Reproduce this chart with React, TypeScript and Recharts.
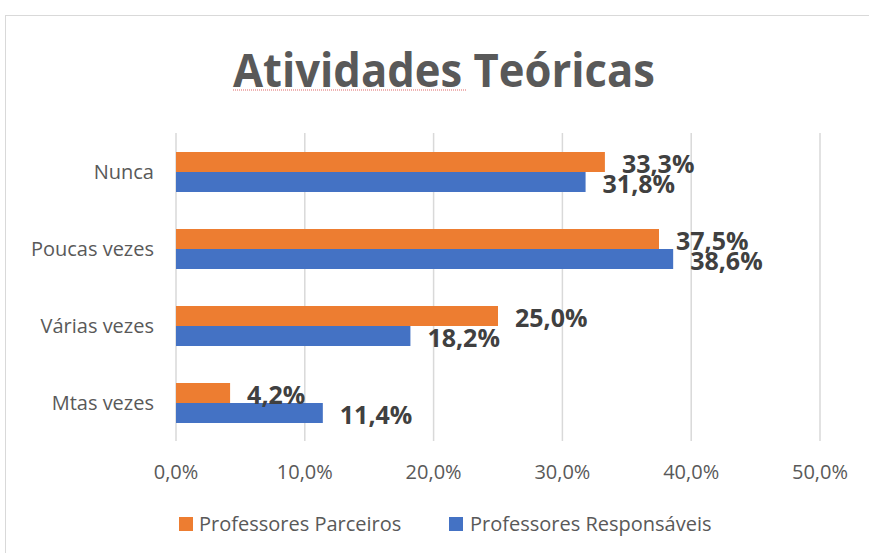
import React from 'react';
import { BarChart, Bar, XAxis, YAxis, CartesianGrid, Legend, LabelList } from 'recharts';

const categories = ['Nunca', 'Poucas vezes', 'Várias vezes', 'Mtas vezes'];
const parceiros = [33.3, 37.5, 25.0, 4.2];
const responsaveis = [31.8, 38.6, 18.2, 11.4];
const xTicks = [0, 10, 20, 30, 40, 50];
const seriesNames = ['Professores Parceiros', 'Professores Responsáveis'];
const title = 'Atividades Teóricas';

const colors = ['#ED7D31', '#4472C4'];
const FONT = '"Open Sans", "Liberation Sans", sans-serif';

const data = categories.map((name, i) => ({ name, p: parceiros[i], r: responsaveis[i] }));

const fmt = (v: number) => v.toFixed(1).replace('.', ',') + '%';

const XTick = (props: any) => {
  const { x, y, payload } = props;
  return (
    <text x={x} y={y + 38} textAnchor="middle" fill="#595959" fontSize={20} fontFamily={FONT}>
      {fmt(payload.value)}
    </text>
  );
};

const YTick = (props: any) => {
  const { x, y, payload } = props;
  return (
    <text x={x - 22} y={y} dy="0.35em" textAnchor="end" fill="#595959" fontSize={20} fontFamily={FONT}>
      {payload.value}
    </text>
  );
};

const BarLabel = (props: any) => {
  const { x, y, width, height, value } = props;
  return (
    <text x={x + width + 17} y={y + height / 2 + 2} dy="0.35em" textAnchor="start" fill="#404040" fontSize={25} fontWeight="bold" fontFamily={FONT}>
      {fmt(value)}
    </text>
  );
};

const LegendContent = () => (
  <div style={{ position: 'relative', width: 869, height: 30, fontFamily: FONT, fontSize: 20, color: '#595959' }}>
    <div style={{ position: 'absolute', left: 179, top: 8, width: 14, height: 14, background: colors[0] }} />
    <div style={{ position: 'absolute', left: 199, top: 0, lineHeight: '30px', whiteSpace: 'nowrap' }}>{seriesNames[0]}</div>
    <div style={{ position: 'absolute', left: 449, top: 8, width: 14, height: 14, background: colors[1] }} />
    <div style={{ position: 'absolute', left: 470, top: 0, lineHeight: '30px', whiteSpace: 'nowrap' }}>{seriesNames[1]}</div>
  </div>
);

export default function App() {
  return (
    <div style={{ position: 'fixed', left: 0, top: 0, width: 869, height: 553, overflow: 'hidden', background: '#fff' }}>
      <div style={{ position: 'absolute', left: 5, top: 15, width: 900, height: 600, border: '1.5px solid #d9d9d9', boxSizing: 'border-box' }} />
      <svg style={{ position: 'absolute', left: 0, top: 0 }} width={869} height={120}>
        <text x={444} y={87} textAnchor="middle" fill="#595959" fontSize={46} fontWeight="bold" fontFamily={FONT} textLength={422} lengthAdjust="spacingAndGlyphs">
          {title}
        </text>
        <line x1={233} y1={90} x2={467} y2={90} stroke="#e06666" strokeWidth={1} strokeDasharray="1 1" />
      </svg>
      <div style={{ position: 'absolute', left: 0, top: 0 }}>
        <BarChart
          width={869}
          height={553}
          data={data}
          layout="vertical"
          margin={{ top: 133, right: 49, bottom: 52, left: 0 }}
          barGap={0}
          barSize={20}
        >
          <CartesianGrid horizontal={false} vertical={true} stroke="#d9d9d9" strokeWidth={1.5} />
          <XAxis
            type="number"
            domain={[0, 50]}
            ticks={xTicks}
            axisLine={false}
            tickLine={false}
            tickSize={0}
            tickMargin={0}
            height={30}
            tick={<XTick />}
            interval={0}
          />
          <YAxis
            type="category"
            dataKey="name"
            width={176}
            axisLine={false}
            tickLine={false}
            tickSize={0}
            tickMargin={0}
            tick={<YTick />}
            interval={0}
          />
          <Legend
            content={<LegendContent />}
            wrapperStyle={{ position: 'absolute', left: 0, top: 509, width: 869, height: 30 }}
          />
          <Bar dataKey="p" name={seriesNames[0]} fill={colors[0]} isAnimationActive={false}>
            <LabelList dataKey="p" content={<BarLabel />} />
          </Bar>
          <Bar dataKey="r" name={seriesNames[1]} fill={colors[1]} isAnimationActive={false}>
            <LabelList dataKey="r" content={<BarLabel />} />
          </Bar>
        </BarChart>
      </div>
    </div>
  );
}
